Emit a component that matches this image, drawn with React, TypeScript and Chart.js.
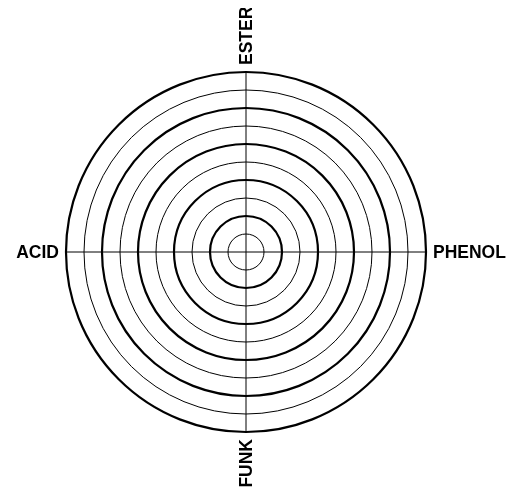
import React, { useEffect, useRef } from "react";
import { Chart, registerables } from "chart.js";

Chart.register(...registerables);

const categories: string[] = ["ESTER", "PHENOL", "FUNK", "ACID"];
const seriesValues: number[] = [];
const tickValues: number[] = [0, 1, 2, 3, 4, 5, 6, 7, 8, 9, 10];

const labelPlugin = {
  id: "rotatedPointLabels",
  afterDraw(chart: any) {
    const scale = chart.scales.r;
    if (!scale) return;
    const ctx = chart.ctx;
    const labels: string[] = chart.data.labels;
    ctx.save();
    ctx.fillStyle = "#000";
    ctx.font = "bold 17.5px 'Liberation Sans', Arial, sans-serif";
    labels.forEach((label, i) => {
      const gap = 7;
      const p = scale.getPointPosition(i, scale.drawingArea + gap);
      const dx = p.x - scale.xCenter;
      const dy = p.y - scale.yCenter;
      ctx.save();
      ctx.translate(p.x, p.y);
      ctx.textBaseline = "middle";
      if (Math.abs(dy) > Math.abs(dx)) {
        ctx.rotate(-Math.PI / 2);
        ctx.textAlign = dy < 0 ? "left" : "right";
      } else {
        ctx.textAlign = dx > 0 ? "left" : "right";
      }
      ctx.fillText(label, 0, 1);
      ctx.restore();
    });
    ctx.restore();
  },
};

export default function App() {
  const ref = useRef<HTMLCanvasElement | null>(null);
  useEffect(() => {
    if (!ref.current) return;
    const chart = new Chart(ref.current, {
      type: "radar",
      data: {
        labels: categories,
        datasets: [
          {
            label: "Profile",
            data: seriesValues,
            borderColor: "#000",
            backgroundColor: "transparent",
          },
        ],
      },
      options: {
        responsive: false,
        animation: false,
        layout: { padding: { left: 58, right: 85, top: 64, bottom: 55 } },
        plugins: { legend: { display: false }, tooltip: { enabled: false } },
        scales: {
          r: {
            min: tickValues[0],
            max: tickValues[tickValues.length - 1],
            afterBuildTicks: (s: any) => {
              s.ticks = tickValues.map((v) => ({ value: v }));
            },
            ticks: { display: false, stepSize: 1 },
            pointLabels: { display: false },
            angleLines: { display: true, color: "#000", lineWidth: 1 },
            grid: {
              circular: true,
              color: "#000",
              lineWidth: (c: any) => (c.index % 2 === 0 ? 2.2 : 1),
            },
          },
        },
      },
      plugins: [labelPlugin],
    });
    return () => chart.destroy();
  }, []);
  return (
    <canvas ref={ref} width={503} height={479} style={{ display: "block" }} />
  );
}
